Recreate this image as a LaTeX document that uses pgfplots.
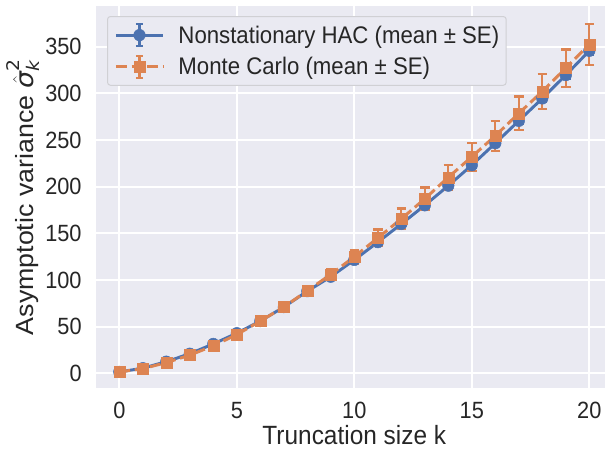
\documentclass[border=0pt]{standalone}
\usepackage{fontspec}
\setmainfont{Liberation Sans}[FakeStretch=0.925]
\newfontfamily\ylabfont{Liberation Sans}[FakeStretch=1.075]
\newfontfamily\ylabsym{DejaVu Sans}[FakeStretch=1.075]
\usepackage{amsmath}
\usepackage{pgfplots}
\pgfplotsset{compat=1.18}
\usepackage{pgfplotstable}
\usetikzlibrary{calc}
\definecolor{sbblue}{HTML}{4C72B0}
\definecolor{sborange}{HTML}{DD8452}
\definecolor{sbbg}{HTML}{EAEAF2}
\definecolor{sbtext}{HTML}{262626}
\definecolor{sbedge}{HTML}{D0D0D4}

\pgfplotstableread{
k y e
0 1.5 0.1
1 5.5 0.3
2 12.5 0.5
3 21 0.7
4 31.5 0.9
5 43 1.1
6 56 1.3
7 71 1.5
8 88 1.7
9 103.5 1.9
10 121.5 2.1
11 140.5 2.3
12 160 2.5
13 180 2.7
14 201 2.9
15 223 3.1
16 246.5 3.3
17 270.5 3.5
18 294.5 3.7
19 319.5 3.9
20 345.5 4.1
}\hac

\pgfplotstableread{
k y e
0 1.5 0.3
1 5 0.5
2 11.5 0.8
3 19.5 1.2
4 29.5 1.8
5 41.5 2.2
6 56 2.8
7 71 3.5
8 88.5 4.5
9 106 6
10 125 7.5
11 145 9
12 165.5 11
13 187 12
14 210 13
15 232 15
16 254.5 16
17 278.5 18
18 302 18.5
19 327 20
20 352.5 22
}\mc

\pgfplotsset{
  ebleg/.style={legend image code/.code={
    \draw[##1, solid, mark=none, line width=2.2bp] (23.5bp,-11bp) -- (23.5bp,11bp) (19.8bp,-11bp) -- (27.2bp,-11bp) (19.8bp,11bp) -- (27.2bp,11bp);
    \draw[mark repeat=2, mark phase=2, ##1] plot coordinates {(0bp,0bp) (23.5bp,0bp) (47bp,0bp)};
  }}
}

\begin{document}
\begin{tikzpicture}
\begin{axis}[
  scale only axis, width=517bp, height=382bp,
  xmin=-1, xmax=21, ymin=-15.7, ymax=393.5,
  axis background/.style={fill=sbbg},
  axis line style={draw=none},
  grid=major, major grid style={white, line width=1.97bp},
  xtick={0,5,...,20}, ytick={0,50,...,350},
  tick style={draw=none},
  /pgf/number format/assume math mode=true,
  ticklabel style={font=\fontsize{23.6}{28}\selectfont, text=sbtext, inner sep=0pt},
  xticklabel style={yshift=-13.7bp},
  yticklabel style={xshift=-14bp},
  xlabel={Truncation size k},
  ylabel={\ylabfont Asymptotic variance {\ylabsym$\hat{\text{\itshape σ}}_{\text{\itshape k}}^{\text{2}}$}},
  label style={text=sbtext, inner sep=0pt},
  xlabel style={font=\fontsize{26.5}{30}\selectfont, at={(axis description cs:0.5,-0.1475)}, anchor=base},
  ylabel style={font=\fontsize{25}{30}\selectfont, at={(axis description cs:-0.1209,0.5)}, anchor=base},
  legend cell align=left,
  legend style={at={(0.0217,0.9738)}, anchor=north west, fill=sbbg, draw=sbedge, line width=1bp, rounded corners=3bp, font=\fontsize{24.1}{28}\selectfont, text=sbtext, row sep=7.4bp, inner xsep=7bp, inner ysep=6.5bp, nodes={inner sep=0pt}, /tikz/every odd column/.append style={column sep=14bp}},
]
\addplot[sbblue, line width=2.95bp, mark=*, mark size=5.8bp, mark options={fill=sbblue, draw=sbblue, line width=0.5bp, solid}, ebleg,
  error bars/.cd, y dir=both, y explicit, error bar style={line width=2.2bp, sbblue, solid}, error mark options={rotate=90, mark size=4.7bp, line width=2.2bp, sbblue, solid}]
  table[x=k, y=y, y error=e]{\hac};
\addlegendentry{Nonstationary HAC (mean ± SE)}
\addplot[sborange, line width=2.95bp, dash pattern=on 10.9bp off 4.7bp, mark=square*, mark size=5.5bp, mark options={fill=sborange, draw=sborange, line width=0.5bp, solid}, ebleg,
  error bars/.cd, y dir=both, y explicit, error bar style={line width=2.2bp, sborange, solid}, error mark options={rotate=90, mark size=4.7bp, line width=2.2bp, sborange, solid}]
  table[x=k, y=y, y error=e]{\mc};
\addlegendentry{Monte Carlo (mean ± SE)}
\end{axis}
\pgfresetboundingbox
\path[use as bounding box] ($(current axis.south west)+(-95.8bp,-61bp)$) rectangle ($(current axis.south west)+(509.2bp,388bp)$);
\end{tikzpicture}
\end{document}
